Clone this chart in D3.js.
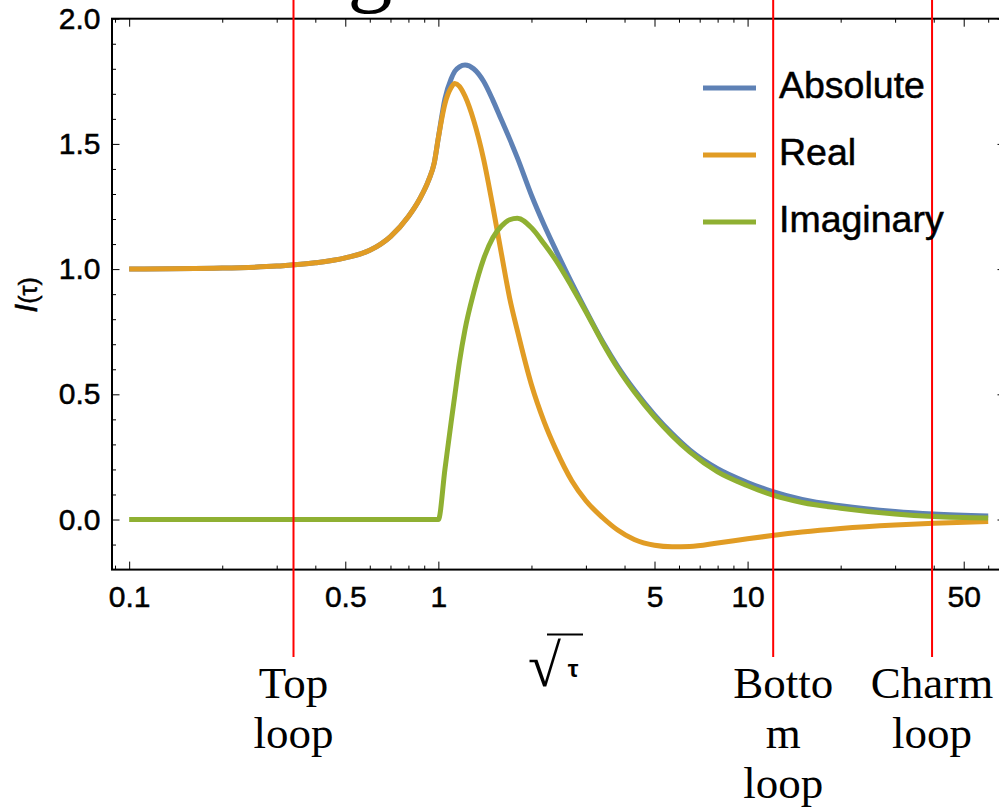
<!DOCTYPE html>
<html>
<head>
<meta charset="utf-8">
<script src="https://cdn.jsdelivr.net/npm/d3@7"></script>
<style>
    body { margin: 0; background: #fff; }
    svg { display: block; }
    .axis text { font-family: "Liberation Sans", Arial, sans-serif; font-size: 30px; fill: #000;
                 stroke: #000; stroke-width: 0.5px; }
    .axis line { stroke: #000; stroke-width: 1; }
    .serif { font-family: "Liberation Serif", "Times New Roman", serif; }
    .sans { font-family: "Liberation Sans", Arial, sans-serif; fill: #000; stroke: #000; stroke-width: 0.5px; }
</style>
</head>
<body>
<svg id="chart" width="999" height="810"></svg>
<script>
(function(){
    'use strict';

    /*******************************************************************
     *                              DATA                               *
     *******************************************************************/

    //sqrt(tau) sample points
    var sqrtTau = [0.1, 0.2, 0.3, 0.4, 0.5, 0.6, 0.7, 0.8, 0.87, 0.93, 0.97, 1.0,
                   1.05, 1.1, 1.13, 1.17, 1.22, 1.3, 1.4, 1.5, 1.6, 1.7, 1.8, 2.0,
                   2.2, 2.4, 2.7, 3.0, 3.4, 3.8, 4.3, 5.0, 5.7, 6.5, 8, 10, 12, 15,
                   20, 30, 40, 60];

    var absValues = [1.0, 1.004, 1.012, 1.025, 1.045, 1.075, 1.13, 1.21, 1.28, 1.355, 1.425, 1.525,
                     1.68, 1.76, 1.79, 1.808, 1.815, 1.80, 1.75, 1.675, 1.595, 1.52, 1.445, 1.295,
                     1.175, 1.075, 0.945, 0.835, 0.71, 0.612, 0.518, 0.418, 0.343, 0.278, 0.203, 0.148, 0.112, 0.08,
                     0.055, 0.032, 0.022, 0.014];

    var realValues = [1.0, 1.004, 1.012, 1.025, 1.045, 1.075, 1.13, 1.21, 1.28, 1.355, 1.425, 1.525,
                      1.66, 1.725, 1.741, 1.73, 1.69, 1.595, 1.44, 1.25, 1.06, 0.885, 0.755, 0.538,
                      0.389, 0.279, 0.155, 0.075, 0.007, -0.042, -0.08, -0.103, -0.109, -0.108, -0.094, -0.077, -0.064, -0.05,
                      -0.036, -0.022, -0.015, -0.008];

    var imagValues = [0, 0, 0, 0, 0, 0, 0, 0, 0, 0, 0, 0,
                      0.20, 0.39, 0.495, 0.63, 0.76, 0.905, 1.04, 1.125, 1.172, 1.197, 1.203, 1.165,
                      1.10, 1.035, 0.93, 0.83, 0.705, 0.605, 0.51, 0.41, 0.335, 0.27, 0.19, 0.135, 0.098, 0.068,
                      0.045, 0.022, 0.012, 0.006];

    var seriesNames  = ['Absolute', 'Real', 'Imaginary'];
    var seriesColors = ['#5E81B5', '#E19C24', '#8FB032'];

    var xMajorTicks = [0.1, 0.5, 1, 5, 10, 50];
    var xMinorTicks = [0.09, 0.2, 0.3, 0.4, 0.6, 0.7, 0.8, 0.9, 2, 3, 4, 6, 7, 8, 9, 20, 30, 40, 60];
    var yMajorTicks = [0, 0.5, 1, 1.5, 2];
    var yMinorTicks = [-0.1, 0.1, 0.2, 0.3, 0.4, 0.6, 0.7, 0.8, 0.9, 1.1, 1.2, 1.3, 1.4, 1.6, 1.7, 1.8, 1.9];

    //quark loop thresholds marked with red lines
    var loopPositions = [0.34, 12.1, 39.5];
    var loopLabels    = [['Top', 'loop'], ['Botto', 'm', 'loop'], ['Charm', 'loop']];

    /*******************************************************************
     *                             LAYOUT                              *
     *******************************************************************/

    var svg = d3.select('#chart');
    var left = 112, right = 1005, top = 18.7, bottom = 569.6;

    var xScale = d3.scaleLog().domain([0.088, 68]).range([left, right]);
    var yScale = d3.scaleLinear().domain([-0.2, 2.0]).range([bottom, top]);

    //cut-off title glyph above the frame
    svg.append('text')
        .attr('class', 'serif')
        .attr('x', 370)
        .attr('y', -5)
        .attr('text-anchor', 'middle')
        .style('font-size', '90px')
        .text('g');

    /*******************************************************************
     *                              AXES                               *
     *******************************************************************/

    function addAxis(axis, transform, values, size, labels, pad) {
        var g = svg.append('g')
            .attr('class', 'axis')
            .attr('transform', transform)
            .call(axis.tickValues(values).tickSize(-size).tickPadding(pad || 0)
                .tickFormat(labels ? labels : function() { return ''; }));
        g.select('.domain').remove();
        return g;
    }

    addAxis(d3.axisBottom(xScale), 'translate(0,' + bottom + ')', xMajorTicks, 8, d3.format('~g'), 16);
    addAxis(d3.axisBottom(xScale), 'translate(0,' + bottom + ')', xMinorTicks, 4);
    addAxis(d3.axisTop(xScale), 'translate(0,' + top + ')', xMajorTicks, 8);
    addAxis(d3.axisTop(xScale), 'translate(0,' + top + ')', xMinorTicks, 4);
    addAxis(d3.axisLeft(yScale), 'translate(' + left + ',0)', yMajorTicks, 7.5, d3.format('.1f'), 11.5);
    addAxis(d3.axisLeft(yScale), 'translate(' + left + ',0)', yMinorTicks, 4);
    addAxis(d3.axisRight(yScale), 'translate(' + right + ',0)', yMajorTicks, 7.5);
    addAxis(d3.axisRight(yScale), 'translate(' + right + ',0)', yMinorTicks, 4);

    //frame
    svg.append('rect')
        .attr('x', left)
        .attr('y', top)
        .attr('width', right - left)
        .attr('height', bottom - top)
        .attr('fill', 'none')
        .attr('stroke', '#000')
        .attr('stroke-width', 2);

    //y-axis title  I(tau)
    var yTitle = svg.append('text')
        .attr('class', 'sans')
        .attr('transform', 'translate(37,295) rotate(-90)')
        .attr('text-anchor', 'middle');
    yTitle.append('tspan').style('font-size', '32px').style('font-style', 'italic').text('I');
    yTitle.append('tspan').style('font-size', '25px').text('(τ)');

    //x-axis title  sqrt(tau)
    svg.append('text')
        .attr('class', 'serif')
        .attr('x', 528)
        .attr('y', 686)
        .style('font-size', '60px')
        .text('√');
    svg.append('line')
        .attr('x1', 547).attr('x2', 583)
        .attr('y1', 634.5).attr('y2', 634.5)
        .attr('stroke', '#000')
        .attr('stroke-width', 2);
    svg.append('text')
        .attr('x', 573)
        .attr('y', 677)
        .attr('text-anchor', 'middle')
        .style('font-family', '"Liberation Sans", Arial, sans-serif')
        .style('font-weight', 'bold')
        .style('font-size', '24px')
        .text('τ');

    /*******************************************************************
     *                             CURVES                              *
     *******************************************************************/

    var seriesValues = [absValues, realValues, imagValues];

    var line = d3.line()
        .x(function(d) { return xScale(d[0]); })
        .y(function(d) { return yScale(d[1]); })
        .curve(d3.curveMonotoneX);

    seriesValues.forEach(function(values, i) {
        svg.append('path')
            .datum(sqrtTau.map(function(x, j) { return [x, values[j]]; }))
            .attr('d', line)
            .attr('fill', 'none')
            .attr('stroke', seriesColors[i])
            .attr('stroke-width', 5)
            .attr('stroke-linejoin', 'round');
    });

    //threshold lines + labels
    loopPositions.forEach(function(pos, i) {
        var x = xScale(pos);
        svg.append('line')
            .attr('x1', x).attr('x2', x)
            .attr('y1', 0).attr('y2', 657)
            .attr('stroke', '#ff0000')
            .attr('stroke-width', 2);

        //wrapped label sits slightly right of the bottom line
        var shift = loopLabels[i].length > 2 ? 10 : 0;
        var label = svg.append('text')
            .attr('class', 'serif')
            .attr('text-anchor', 'middle')
            .style('font-size', '45px');
        loopLabels[i].forEach(function(word, k) {
            label.append('tspan')
                .attr('x', x + shift)
                .attr('y', 698 + k * 50)
                .text(word);
        });
    });

    //legend
    var legend = svg.append('g').attr('transform', 'translate(703,88)');
    seriesNames.forEach(function(name, i) {
        var row = legend.append('g').attr('transform', 'translate(0,' + (i * 67) + ')');
        row.append('line')
            .attr('x1', 0).attr('x2', 53)
            .attr('stroke', seriesColors[i])
            .attr('stroke-width', 5);
        row.append('text')
            .attr('class', 'sans')
            .attr('x', 76)
            .attr('y', 10)
            .style('font-size', '37.5px')
            .text(name);
    });
})();
</script>
</body>
</html>
